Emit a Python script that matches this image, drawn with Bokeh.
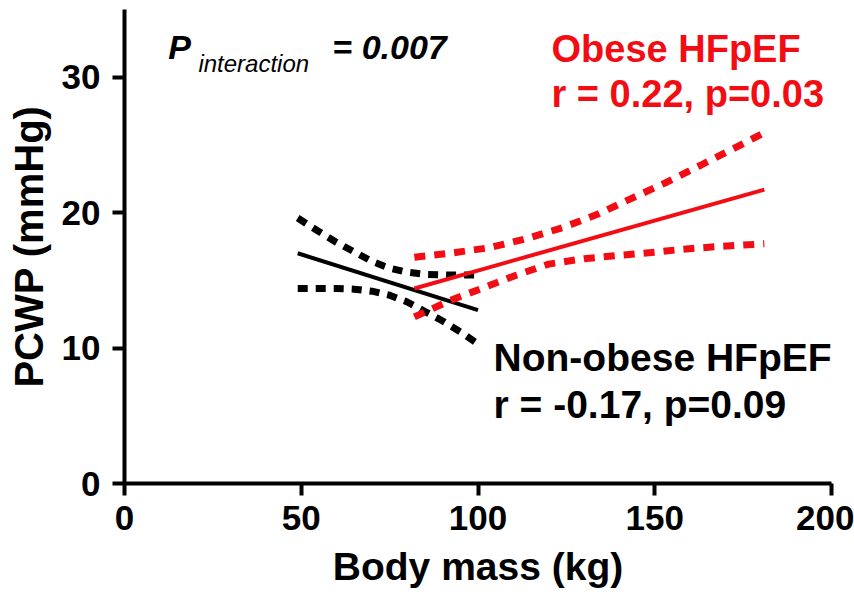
from bokeh.plotting import figure
from bokeh.models import FixedTicker, Label
from bokeh.embed import file_html
from bokeh.resources import INLINE

# ---- data ----
x_ticks = [0, 50, 100, 150, 200]
y_ticks = [0, 10, 20, 30]

black_fit_x = [49, 100]
black_fit_y = [17.0, 12.8]
black_ci_x = [49, 55, 60, 65, 70, 75, 80, 85, 90, 95, 100]
black_upper_y = [19.6, 18.6, 17.8, 17.1, 16.4, 15.9, 15.6, 15.45, 15.4, 15.4, 15.4]
black_lower_y = [14.4, 14.4, 14.4, 14.35, 14.2, 13.9, 13.4, 12.7, 12.0, 11.2, 10.3]

red_fit_x = [82, 181]
red_fit_y = [14.4, 21.7]
red_upper_x = [82, 92, 103, 114, 124, 134, 143, 153, 163, 172, 181]
red_upper_y = [16.7, 17.0, 17.4, 18.1, 18.9, 19.9, 21.0, 22.2, 23.5, 24.7, 25.9]
red_lower_x = [82, 92, 102, 111, 120, 130, 140, 149, 158, 168, 181]
red_lower_y = [12.3, 13.5, 14.5, 15.4, 16.2, 16.6, 16.85, 17.05, 17.3, 17.5, 17.7]

RED = "#f20d14"
FONT = "Liberation Sans"

p = figure(width=854, height=597, x_range=(0, 200), y_range=(0, 35),
           output_backend="svg", toolbar_location=None,
           min_border_left=124, min_border_right=23,
           min_border_top=9, min_border_bottom=114)
p.outline_line_color = None
p.xgrid.visible = False
p.ygrid.visible = False
p.background_fill_color = "white"
p.border_fill_color = "white"

for ax in (p.xaxis[0], p.yaxis[0]):
    ax.axis_line_width = 4
    ax.axis_line_color = "black"
    ax.major_tick_line_width = 4
    ax.major_tick_out = 12
    ax.major_tick_in = 0
    ax.minor_tick_line_color = None
    ax.major_label_text_font = FONT
    ax.major_label_text_font_style = "bold"
    ax.major_label_text_font_size = "35px"
    ax.major_label_text_color = "black"
    ax.axis_label_text_font = FONT
    ax.axis_label_text_font_style = "bold"
    ax.axis_label_text_color = "black"

p.xaxis[0].ticker = FixedTicker(ticks=x_ticks)
p.yaxis[0].ticker = FixedTicker(ticks=y_ticks)
p.xaxis[0].axis_label = "Body mass (kg)"
p.yaxis[0].axis_label = "PCWP (mmHg)"
p.xaxis[0].axis_label_text_font_size = "39px"
p.yaxis[0].axis_label_text_font_size = "40px"
p.xaxis[0].major_label_standoff = 10
p.yaxis[0].major_label_standoff = 12
p.xaxis[0].axis_label_standoff = 12
p.yaxis[0].axis_label_standoff = 8

# black (non-obese)
p.line(black_ci_x, black_upper_y, line_color="black", line_width=7, line_dash="10 8")
p.line(black_ci_x, black_lower_y, line_color="black", line_width=7, line_dash="10 8")
p.line(black_fit_x, black_fit_y, line_color="black", line_width=4)

# red (obese)
p.line(red_upper_x, red_upper_y, line_color=RED, line_width=7, line_dash="11 9")
p.line(red_lower_x, red_lower_y, line_color=RED, line_width=7, line_dash="11 9")
p.line(red_fit_x, red_fit_y, line_color=RED, line_width=4)

def lab(x, y, t, size, style="bold", color="black"):
    p.add_layout(Label(x=x, y=y, text=t, text_font=FONT, text_font_size=size,
                       text_font_style=style, text_color=color,
                       text_baseline="alphabetic", text_align="left"))

lab(12.4, 32.2, "P", "34px", "bold italic")
lab(20.9, 31.0, "interaction", "24px", "italic")
lab(58.8, 32.2, "= 0.007", "34px", "bold italic")

lab(120.8, 32.1, "Obese HFpEF", "38px", "bold", RED)
lab(120.8, 28.75, "r = 0.22, p=0.03", "38px", "bold", RED)

lab(104.4, 9.3, "Non-obese HFpEF", "39px", "bold")
lab(104.4, 5.85, "r = -0.17, p=0.09", "39px", "bold")

open("out.html", "w").write(file_html(p, INLINE))
